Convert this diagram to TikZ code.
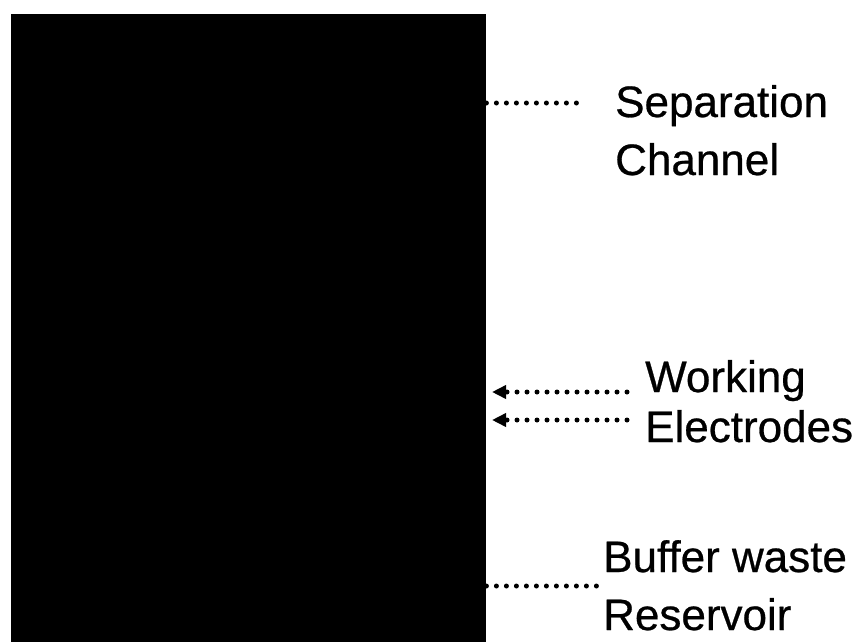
\documentclass[tikz,border=0pt]{standalone}
\usepackage{fontspec}
\setmainfont[FakeBold=0.6]{Liberation Sans}
\usetikzlibrary{arrows.meta}
\begin{document}
\begin{tikzpicture}[x=1pt,y=-1pt,
  dotline/.style={line width=5pt, line cap=round, dash pattern=on 0pt off 10pt},
  tipped/.style={-{Triangle[length=14pt,width=13pt]}},
  lbl/.style={inner sep=0pt, align=left, anchor=base west, font=\fontsize{44}{#1}\selectfont},
  lbl/.default=58]
\useasboundingbox[fill=white] (0,0) rectangle (862,642);
\node[fill=black, inner sep=0pt, minimum width=475pt, minimum height=628pt, anchor=north west] (chip) at (11,14) {};
% labels (anchored at the baseline of their last line)
\node[lbl=58] (sep) at (615,175) {Separation\\Channel};
\node[lbl=50] (we) at (645,442) {Working\\Electrodes};
\node[lbl=58] (buf) at (603,630) {Buffer waste\\Reservoir};
% connector ends
\coordinate (sepend) at (580,103);
\coordinate (w1end) at (627,392);
\coordinate (w2end) at (627,420);
\coordinate (tipx) at (492,0);
\coordinate (bufend) at (598,586);
\draw[dotline] (sepend -| chip.east) -- (sepend);
\draw[dotline, tipped] (w1end) -- (w1end -| tipx);
\draw[dotline, tipped] (w2end) -- (w2end -| tipx);
\draw[dotline] (bufend -| chip.east) -- (bufend);
\end{tikzpicture}
\end{document}
